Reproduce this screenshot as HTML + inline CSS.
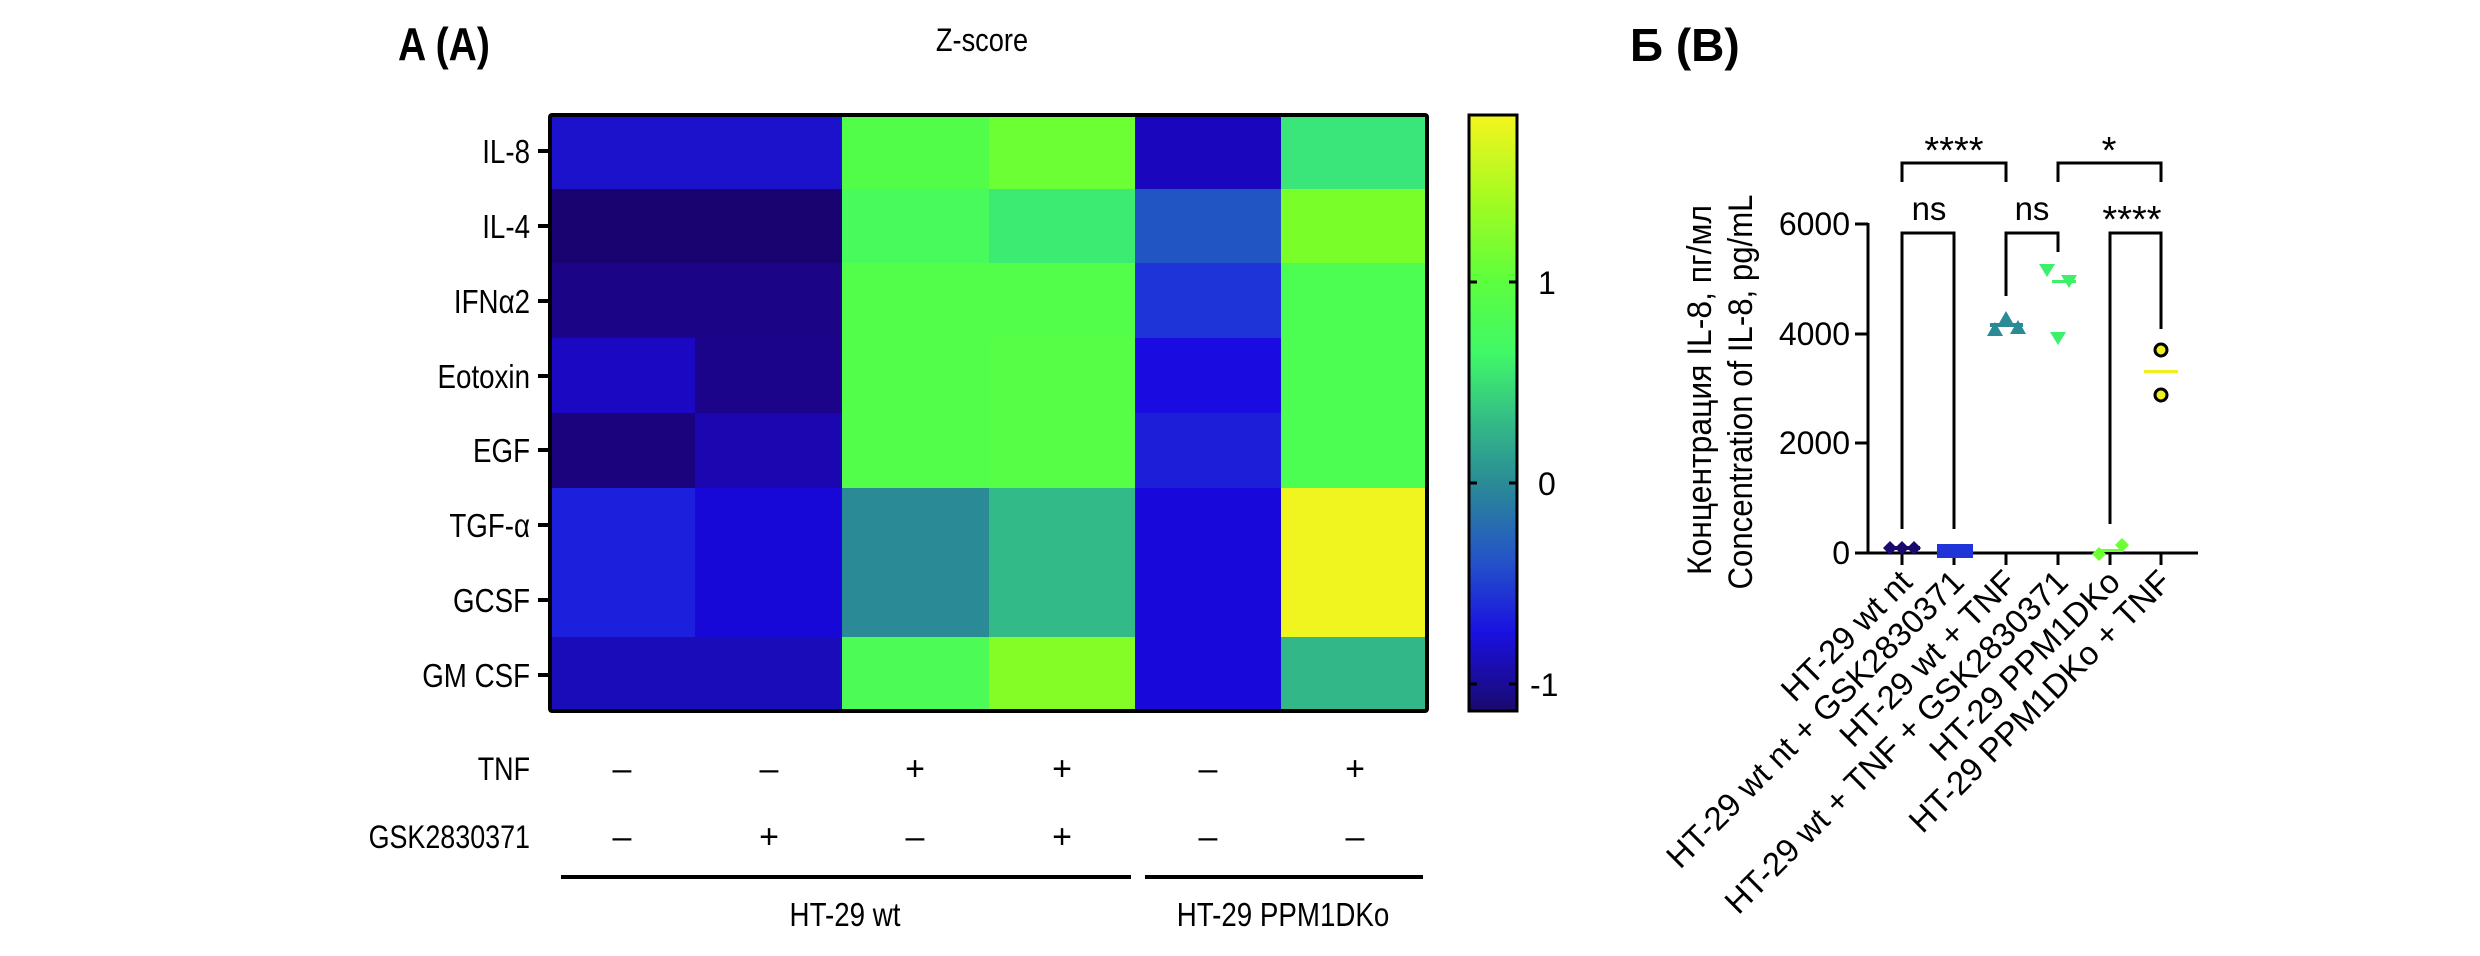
<!DOCTYPE html>
<html><head><meta charset="utf-8"><style>html,body{margin:0;padding:0;background:#fff}svg{display:block}</style></head>
<body>
<svg width="2480" height="956" viewBox="0 0 2480 956" xmlns="http://www.w3.org/2000/svg" font-family="Liberation Sans, sans-serif">
<defs>
<linearGradient id="cb" x1="0" y1="0" x2="0" y2="1">
<stop offset="0" stop-color="#f4f51e"/>
<stop offset="0.15" stop-color="#a0fb22"/>
<stop offset="0.28" stop-color="#5cfe3e"/>
<stop offset="0.40" stop-color="#40f868"/>
<stop offset="0.52" stop-color="#33b888"/>
<stop offset="0.62" stop-color="#2a8a96"/>
<stop offset="0.75" stop-color="#2452c8"/>
<stop offset="0.87" stop-color="#1a10e0"/>
<stop offset="1" stop-color="#1a0a6e"/>
</linearGradient>
</defs>

<text x="398" y="60" font-size="46" font-weight="bold" transform="translate(398,0) scale(0.85,1) translate(-398,0)">A (A)</text>
<text x="982" y="51" font-size="32" text-anchor="middle" transform="translate(982,0) scale(0.85,1) translate(-982,0)">Z-score</text>

<g shape-rendering="crispEdges">
<rect x="549" y="114" width="293" height="75" fill="#1c12cc"/>
<rect x="842" y="114" width="147" height="75" fill="#52fd4a"/>
<rect x="989" y="114" width="147" height="75" fill="#6cff34"/>
<rect x="1135" y="114" width="147" height="75" fill="#1a06bd"/>
<rect x="1281" y="114" width="147" height="75" fill="#3ae57a"/>

<rect x="549" y="189" width="293" height="75" fill="#180370"/>
<rect x="842" y="189" width="147" height="75" fill="#48fa5c"/>
<rect x="989" y="189" width="147" height="75" fill="#3ceb72"/>
<rect x="1135" y="189" width="147" height="75" fill="#2255c4"/>
<rect x="1281" y="189" width="147" height="75" fill="#7afe2a"/>

<rect x="549" y="263" width="293" height="75" fill="#1b0486"/>
<rect x="842" y="263" width="293" height="75" fill="#52fe4a"/>
<rect x="1135" y="263" width="147" height="75" fill="#1f34d8"/>
<rect x="1281" y="263" width="147" height="75" fill="#4cfd52"/>

<rect x="549" y="338" width="147" height="75" fill="#1b08c2"/>
<rect x="695" y="338" width="147" height="75" fill="#1b038a"/>
<rect x="842" y="338" width="147" height="75" fill="#52fe4a"/>
<rect x="989" y="338" width="147" height="75" fill="#56fe46"/>
<rect x="1135" y="338" width="147" height="75" fill="#1a0ce0"/>
<rect x="1281" y="338" width="147" height="75" fill="#4cfd52"/>

<rect x="549" y="413" width="147" height="75" fill="#1a037c"/>
<rect x="695" y="413" width="147" height="75" fill="#1b06b0"/>
<rect x="842" y="413" width="147" height="75" fill="#52fe4a"/>
<rect x="989" y="413" width="147" height="75" fill="#56fe46"/>
<rect x="1135" y="413" width="147" height="75" fill="#1c1ed8"/>
<rect x="1281" y="413" width="147" height="75" fill="#4cfd52"/>

<rect x="549" y="488" width="147" height="150" fill="#1c20dc"/>
<rect x="695" y="488" width="147" height="150" fill="#1808d8"/>
<rect x="842" y="488" width="147" height="150" fill="#2a8a96"/>
<rect x="989" y="488" width="147" height="150" fill="#32ba88"/>
<rect x="1135" y="488" width="147" height="150" fill="#1808da"/>
<rect x="1281" y="488" width="147" height="150" fill="#f0f520"/>

<rect x="549" y="637" width="293" height="75" fill="#1a0cb8"/>
<rect x="842" y="637" width="147" height="75" fill="#4cfb56"/>
<rect x="989" y="637" width="147" height="75" fill="#84fd26"/>
<rect x="1135" y="637" width="147" height="75" fill="#1808da"/>
<rect x="1281" y="637" width="147" height="75" fill="#32b888"/>
</g>
<rect x="550" y="115" width="877" height="596" fill="none" stroke="#000" stroke-width="4" rx="2"/>

<g stroke="#000" stroke-width="4">
<line x1="538" y1="151" x2="550" y2="151"/><line x1="538" y1="226" x2="550" y2="226"/>
<line x1="538" y1="301" x2="550" y2="301"/><line x1="538" y1="376" x2="550" y2="376"/>
<line x1="538" y1="450" x2="550" y2="450"/><line x1="538" y1="525" x2="550" y2="525"/>
<line x1="538" y1="600" x2="550" y2="600"/><line x1="538" y1="675" x2="550" y2="675"/>
</g>
<g font-size="33" text-anchor="end" transform="translate(530,0) scale(0.84,1)">
<text x="0" y="163">IL-8</text>
<text x="0" y="238">IL-4</text>
<text x="0" y="313">IFNα2</text>
<text x="0" y="388">Eotoxin</text>
<text x="0" y="462">EGF</text>
<text x="0" y="537">TGF-α</text>
<text x="0" y="612">GCSF</text>
<text x="0" y="687">GM CSF</text>
</g>

<rect x="1469" y="115" width="48" height="596" fill="url(#cb)" stroke="#000" stroke-width="3"/>
<g stroke="#000" stroke-width="3">
<line x1="1469" y1="282" x2="1477" y2="282"/><line x1="1509" y1="282" x2="1517" y2="282"/>
<line x1="1469" y1="483" x2="1477" y2="483"/><line x1="1509" y1="483" x2="1517" y2="483"/>
<line x1="1469" y1="684" x2="1477" y2="684"/><line x1="1509" y1="684" x2="1517" y2="684"/>
</g>
<g font-size="32">
<text x="1538" y="294">1</text>
<text x="1538" y="495">0</text>
<text x="1530" y="696">-1</text>
</g>

<g font-size="32" text-anchor="end" transform="translate(530,0) scale(0.84,1)">
<text x="0" y="780">TNF</text>
<text x="0" y="848">GSK2830371</text>
</g>
<g font-size="34" text-anchor="middle">
<text x="622" y="780">–</text><text x="769" y="780">–</text><text x="915" y="780">+</text>
<text x="1062" y="780">+</text><text x="1208" y="780">–</text><text x="1355" y="780">+</text>
<text x="622" y="848">–</text><text x="769" y="848">+</text><text x="915" y="848">–</text>
<text x="1062" y="848">+</text><text x="1208" y="848">–</text><text x="1355" y="848">–</text>
</g>
<g stroke="#000" stroke-width="4">
<line x1="561" y1="877" x2="1131" y2="877"/>
<line x1="1145" y1="877" x2="1423" y2="877"/>
</g>
<g font-size="33" text-anchor="middle">
<text x="0" y="926" transform="translate(845,0) scale(0.84,1)">HT-29 wt</text>
<text x="0" y="926" transform="translate(1283,0) scale(0.84,1)">HT-29 PPM1DKo</text>
</g>

<text x="1630" y="61" font-size="46" font-weight="bold">Б (B)</text>

<g transform="translate(1699,390) rotate(-90)" font-size="34" text-anchor="middle">
<text x="0" y="12" textLength="370" lengthAdjust="spacingAndGlyphs">Концентрация IL-8, пг/мл</text>
</g>
<g transform="translate(1740,392) rotate(-90)" font-size="34" text-anchor="middle">
<text x="0" y="12" textLength="395" lengthAdjust="spacingAndGlyphs">Concentration of IL-8, pg/mL</text>
</g>

<g stroke="#000" stroke-width="3" fill="none">
<line x1="1868" y1="223" x2="1868" y2="554"/>
<line x1="1855" y1="553" x2="2198" y2="553"/>
<line x1="1855" y1="224" x2="1868" y2="224"/>
<line x1="1855" y1="334" x2="1868" y2="334"/>
<line x1="1855" y1="443" x2="1868" y2="443"/>
<line x1="1902" y1="553" x2="1902" y2="565"/>
<line x1="1954" y1="553" x2="1954" y2="565"/>
<line x1="2006" y1="553" x2="2006" y2="565"/>
<line x1="2058" y1="553" x2="2058" y2="565"/>
<line x1="2110" y1="553" x2="2110" y2="565"/>
<line x1="2161" y1="553" x2="2161" y2="565"/>
<polyline points="1902,182 1902,163 2006,163 2006,182"/>
<polyline points="2058,182 2058,163 2161,163 2161,182"/>
<polyline points="1902,529 1902,233 1954,233 1954,529"/>
<polyline points="2006,296 2006,233 2058,233 2058,252"/>
<polyline points="2110,524 2110,233 2161,233 2161,329"/>
</g>
<g font-size="32" text-anchor="end">
<text x="1850" y="235">6000</text>
<text x="1850" y="345">4000</text>
<text x="1850" y="454">2000</text>
<text x="1850" y="564">0</text>
</g>
<g font-size="38" text-anchor="middle">
<text x="1954" y="163">****</text>
<text x="2109" y="163">*</text>
<text x="2132" y="232">****</text>
</g>
<g font-size="33" text-anchor="middle">
<text x="1929" y="220">ns</text>
<text x="2032" y="220">ns</text>
</g>

<g fill="#1a0a6e">
<polygon points="1890,541 1897,548 1890,555 1883,548"/>
<polygon points="1902,541 1909,548 1902,555 1895,548"/>
<polygon points="1914,541 1921,548 1914,555 1907,548"/>
<rect x="1886" y="546" width="34" height="4"/>
</g>
<rect x="1937" y="544" width="36" height="14" fill="#1f35d8"/>
<g fill="#2a8a96">
<polygon points="1995,322 2003,336 1987,336"/>
<polygon points="2006,311 2014,325 1998,325"/>
<polygon points="2018,320 2026,334 2010,334"/>
<rect x="1990" y="323" width="33" height="4"/>
</g>
<g fill="#3cf06a">
<polygon points="2039,264 2055,264 2047,277"/>
<polygon points="2061,275 2077,275 2069,288"/>
<polygon points="2050,332 2066,332 2058,345"/>
<rect x="2052" y="280" width="24" height="3"/>
</g>
<g fill="#6cff34">
<polygon points="2099,547 2106,554 2099,561 2092,554"/>
<polygon points="2122,538 2129,545 2122,552 2115,545"/>
<rect x="2099" y="549" width="24" height="3"/>
</g>
<g fill="#f0f020" stroke="#000" stroke-width="3">
<circle cx="2161" cy="350" r="6"/>
<circle cx="2161" cy="395" r="6"/>
</g>
<rect x="2144" y="370" width="34" height="3" fill="#f0f020"/>

<g font-size="33" text-anchor="end">
<text transform="translate(1914,584) rotate(-45)">HT-29 wt nt</text>
<text transform="translate(1966,584) rotate(-45)">HT-29 wt nt + GSK2830371</text>
<text transform="translate(2018,584) rotate(-45)">HT-29 wt + TNF</text>
<text transform="translate(2070,584) rotate(-45)">HT-29 wt + TNF + GSK2830371</text>
<text transform="translate(2122,584) rotate(-45)">HT-29 PPM1DKo</text>
<text transform="translate(2173,584) rotate(-45)">HT-29 PPM1DKo + TNF</text>
</g>
</svg>
</body></html>
